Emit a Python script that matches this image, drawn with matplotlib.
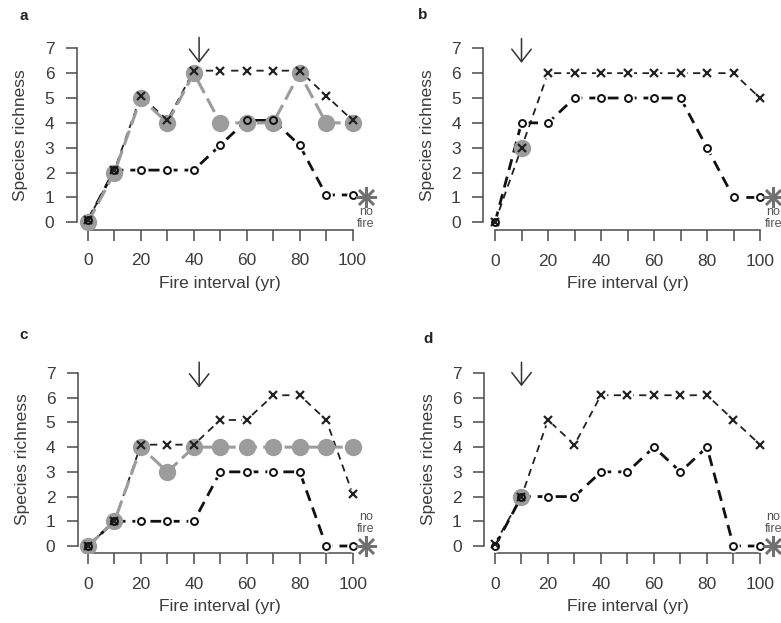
import matplotlib
matplotlib.use('Agg')
import matplotlib.pyplot as plt

plt.rcParams['font.family'] = ['Liberation Sans', 'DejaVu Sans']

W, H = 781, 623

x = [0, 10, 20, 30, 40, 50, 60, 70, 80, 90, 100]
xticklabels = ['0', '', '20', '', '40', '', '60', '', '80', '', '100']

# panel a
a_cross = [0.1, 2.1, 5.1, 4.1, 6.1, 6.1, 6.1, 6.1, 6.1, 5.1, 4.1]
a_circle = [0.1, 2.1, 2.1, 2.1, 2.1, 3.1, 4.1, 4.1, 3.1, 1.1, 1.1]
a_gray_x = x
a_gray = [0, 2, 5, 4, 6, 4, 4, 4, 6, 4, 4]
a_star = 1
a_arrow = 42

# panel b
b_cross = [0, 3, 6, 6, 6, 6, 6, 6, 6, 6, 5]
b_circle = [0, 4, 4, 5, 5, 5, 5, 5, 3, 1, 1]
b_gray_x = [10]
b_gray = [3]
b_star = 1
b_arrow = 10

# panel c
c_cross = [0, 1, 4.1, 4.1, 4.1, 5.1, 5.1, 6.1, 6.1, 5.1, 2.1]
c_circle = [0, 1, 1, 1, 1, 3, 3, 3, 3, 0, 0]
c_gray_x = x
c_gray = [0, 1, 4, 3, 4, 4, 4, 4, 4, 4, 4]
c_star = 0
c_arrow = 42

# panel d
d_cross = [0.1, 2, 5.1, 4.1, 6.1, 6.1, 6.1, 6.1, 6.1, 5.1, 4.1]
d_circle = [0, 2, 2, 2, 3, 3, 4, 3, 4, 0, 0]
d_gray_x = [10]
d_gray = [2]
d_star = 0
d_arrow = 10

TXT = '#3c3c3c'
AXC = '#4a4a4a'
GRAY = '#9c9c9c'

fig = plt.figure(figsize=(W / 100, H / 100), dpi=100)
fig.patch.set_facecolor('white')


def panel(label, lab_xy, geom, cross, circle, gx, gy, star, arrow, arrow_y):
    # geom: spine_x, spine_y, x0, x100, y0, y7 in pixels
    sx, sy, x0, x100, y0, y7 = geom
    ux = (x100 - x0) / 100
    uy = (y0 - y7) / 7
    right = x0 + 112 * ux
    top = y0 - 7.7 * uy
    ax = fig.add_axes([sx / W, 1 - sy / H, (right - sx) / W, (sy - top) / H])
    ax.set_xlim((sx - x0) / ux, (right - x0) / ux)
    ax.set_ylim((y0 - sy) / uy, (y0 - top) / uy)
    ax.patch.set_alpha(0)

    for s in ['top', 'right']:
        ax.spines[s].set_visible(False)
    ax.spines['left'].set_bounds(0, 7)
    ax.spines['bottom'].set_bounds(0, 100)
    for s in ['left', 'bottom']:
        ax.spines[s].set_color(AXC)
        ax.spines[s].set_linewidth(1.1)
    ax.set_xticks(x)
    ax.set_xticklabels(xticklabels)
    ax.set_yticks(range(8))
    ax.tick_params(axis='both', direction='out', length=8, width=1.1,
                   color=AXC, labelcolor=TXT, labelsize=12.5)
    ax.tick_params(axis='x', pad=9)
    ax.tick_params(axis='y', pad=8)

    ax.set_xlabel('Fire interval (yr)', fontsize=12.5, color=TXT)
    ax.set_ylabel('Species richness', fontsize=12.5, color=TXT)
    ax.xaxis.set_label_coords(((x0 + x100) / 2) / W, 1 - 276 / H if sy < 300 else 1 - 599 / H,
                              transform=fig.transFigure)
    ax.yaxis.set_label_coords((sx - 48) / W, 1 - ((y0 + y7) / 2) / H,
                              transform=fig.transFigure)

    # cross series, short thin dashes
    ax.plot(x, cross, color='#222222', lw=1.3, ls=(0, (4, 3)), zorder=2)
    ax.plot(x, cross, ls='none', marker='o', ms=8, mfc='white', mec='none', zorder=2.1)
    # circle series, long thick dashes
    ax.plot(x, circle, color='#111111', lw=2.0, ls=(0, (4, 2.5)), zorder=3)
    ax.plot(x, circle, ls='none', marker='o', ms=9, mfc='white', mec='none', zorder=3.1)
    # gray series
    if len(gx) > 1:
        ax.plot(gx, gy, color=GRAY, lw=2.2, ls=(0, (5, 2)), zorder=4)
    ax.plot(gx, gy, ls='none', marker='o', ms=12.5, mfc=GRAY, mec='none', zorder=5)
    # markers on top
    ax.plot(x, cross, ls='none', marker='x', ms=6, mew=1.6, color='#222222', zorder=6)
    ax.plot(x, circle, ls='none', marker='o', ms=5, mew=1.4, mfc='none', mec='#111111', zorder=6)

    # no-fire star
    ax.plot([105], [star], ls='none', marker=(8, 2, 0), ms=15, mew=1.8,
            color='#707070', clip_on=False, zorder=7)
    if star > 0.5:
        ax.annotate('no\nfire', (105, star), xytext=(0, -6), textcoords='offset points',
                    ha='center', va='top', fontsize=9, color='#555555',
                    linespacing=1.0, annotation_clip=False)
    else:
        ax.annotate('no\nfire', (105, star), xytext=(0, 8), textcoords='offset points',
                    ha='center', va='bottom', fontsize=9, color='#555555',
                    linespacing=1.0, annotation_clip=False)

    # arrow
    ax.annotate('', xy=(arrow, arrow_y[1]), xytext=(arrow, arrow_y[0]),
                arrowprops=dict(arrowstyle='->,head_length=0.9,head_width=0.7',
                                color='#333333', lw=1.1, mutation_scale=10),
                annotation_clip=False)

    fig.text(lab_xy[0] / W, 1 - lab_xy[1] / H, label, ha='center', va='center',
             fontsize=11, fontweight='bold', color='#222222')
    return ax


panel('a', (24, 16), (76.5, 229.5, 88, 352.5, 222.3, 48.3),
      a_cross, a_circle, a_gray_x, a_gray, a_star, a_arrow, (7.55, 6.3))
panel('b', (423, 15), (483, 230, 495, 760, 222.3, 48.3),
      b_cross, b_circle, b_gray_x, b_gray, b_star, b_arrow, (7.5, 6.3))
panel('c', (24, 335), (77.5, 553, 88, 352.7, 546, 373),
      c_cross, c_circle, c_gray_x, c_gray, c_star, c_arrow, (7.55, 6.3))
panel('d', (428, 339), (484, 553, 495, 760, 546, 373),
      d_cross, d_circle, d_gray_x, d_gray, d_star, d_arrow, (7.55, 6.35))

fig.savefig('out.png', dpi=100, facecolor='white')
